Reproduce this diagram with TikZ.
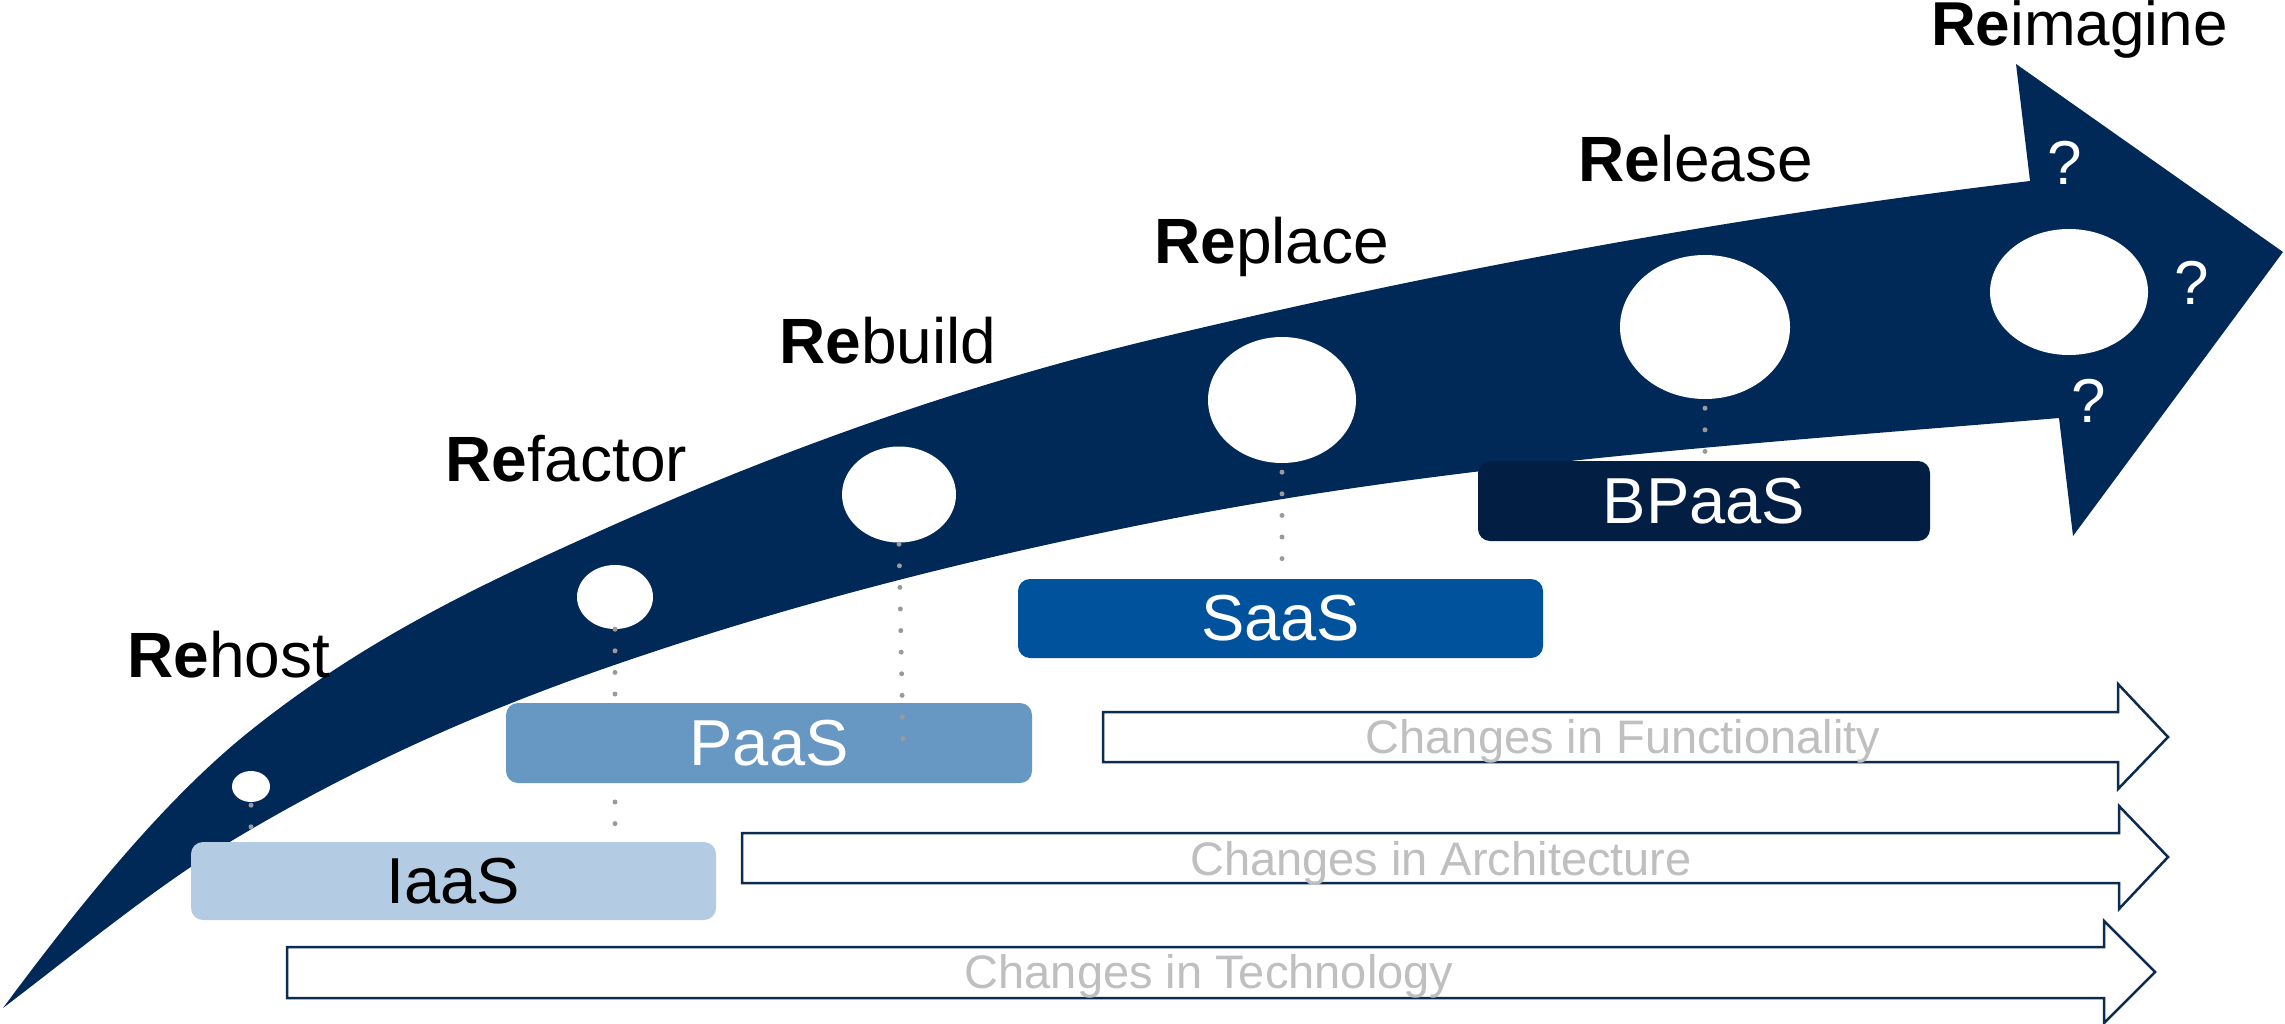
\documentclass[tikz,border=0pt]{standalone}
\usepackage{fontspec}
\setmainfont{Liberation Sans}
\usetikzlibrary{shapes.geometric,calc}

\definecolor{navy}{HTML}{012958}
\definecolor{iaasblue}{HTML}{B4CCE3}
\definecolor{paasblue}{HTML}{6798C3}
\definecolor{saasblue}{HTML}{01529C}
\definecolor{bpaasblue}{HTML}{021F43}
\definecolor{dotgray}{HTML}{9A9A9A}
\definecolor{notegray}{HTML}{BFBFBF}
\definecolor{bandline}{HTML}{0C2B50}

\begin{document}
\begin{tikzpicture}[x=1pt, y=-1pt,
  stage/.style={anchor=base west, inner sep=0pt, font=\fontsize{64}{76}\selectfont},
  hole/.style={ellipse, fill=white, inner sep=0pt},
  tier/.style={rectangle, rounded corners=12pt, inner sep=0pt, font=\fontsize{65}{78}\selectfont},
  dotline/.style={draw=dotgray, line width=5pt, line cap=round, dash pattern=on 0pt off 21.6pt},
  band/.style={draw=bandline, line width=2.5pt, fill=white, line join=miter},
  bandtext/.style={anchor=base, inner sep=0pt, text=notegray, font=\fontsize{47}{56}\selectfont},
  query/.style={text=white, inner sep=0pt, font=\fontsize{62}{74}\selectfont}
]
\useasboundingbox (0,0) rectangle (2285,1024);

% the big curved journey arrow
\fill[navy]
  (3,1008) .. controls (85.3,897) and (167.7,796.8) .. (250,731)
  .. controls (366.7,637.6) and (483.3,583.5) .. (600,531)
  .. controls (783.3,448.5) and (966.7,384) .. (1150,340)
  .. controls (1443.3,269.6) and (1736.7,216.2) .. (2030,181)
  -- (2016,64) -- (2283,252) -- (2073,536) -- (2059,418)
  .. controls (1755.3,443.7) and (1452.7,462.5) .. (1150,523)
  .. controls (966.7,559.7) and (783.3,605.8) .. (600,670)
  .. controls (477.7,712.8) and (355.3,766.6) .. (233,840)
  .. controls (156.3,886) and (79.7,949.7) .. (3,1008)
  -- cycle;

% stage markers on the arrow
\node[hole, minimum width=38pt,  minimum height=31pt]  (c1) at (251,786.5) {};
\node[hole, minimum width=76pt,  minimum height=64pt]  (c2) at (615,597) {};
\node[hole, minimum width=114pt, minimum height=96pt]  (c3) at (899,494.5) {};
\node[hole, minimum width=148pt, minimum height=126pt] (c4) at (1282,400) {};
\node[hole, minimum width=170pt, minimum height=144pt] (c5) at (1705,327) {};
\node[hole, minimum width=158pt, minimum height=126pt] (c6) at (2069,292) {};

% stage names
\node[stage] (rehost)   at (127,677)  {\textbf{Re}host};
\node[stage] (refactor) at (445,481)  {\textbf{Re}factor};
\node[stage] (rebuild)  at (779,363)  {\textbf{Re}build};
\node[stage] (replace)  at (1154,264) {\textbf{Re}place};
\node[stage] (release)  at (1578,182) {\textbf{Re}lease};
\node[stage, font=\fontsize{62}{74}\selectfont] (reimagine) at (1931,46) {\textbf{Re}imagine};

% open questions in the arrow head
\node[query] (q1) at (2065,163) {?};
\node[query] (q2) at (2192,283) {?};
\node[query] (q3) at (2089,401) {?};

% change bands
\draw[band] (1103,712) -- (2118,712) -- (2118,684) -- (2168,737) -- (2118,789) -- (2118,762) -- (1103,762) -- cycle;
\draw[band] (742,833) -- (2119,833) -- (2119,806) -- (2168,857) -- (2119,909) -- (2119,883) -- (742,883) -- cycle;
\draw[band] (287,947) -- (2104,947) -- (2104,921) -- (2155,972) -- (2104,1023) -- (2104,998) -- (287,998) -- cycle;
\node[bandtext] (func) at (1623,753) {Changes in Functionality};
\node[bandtext] (arch) at (1441,875) {Changes in Architecture};
\node[bandtext] (tech) at (1209,988) {Changes in Technology};

% service tiers and their leader dots
\coordinate (iaas-top) at (0,842);
\draw[dotline] ($(c1.south)+(0,3)$) -- (c1.south |- iaas-top);
\draw[dotline] (c2.south) -- (c2.south |- iaas-top);

\node[tier, fill=iaasblue, text=black, minimum width=525pt, minimum height=78pt] (iaas) at (453.5,881) {IaaS};
\node[tier, fill=paasblue, text=white, minimum width=526pt, minimum height=80pt] (paas) at (769,743) {PaaS};

\coordinate (rb-end) at (903,740);
\draw[dotline] ($(c3.south)+(0,1.5)$) -- (rb-end);

\node[tier, fill=saasblue, text=white, minimum width=525pt, minimum height=79pt] (saas) at (1280.5,618.5) {SaaS};
\draw[dotline] ($(c4.south)+(0,9)$) -- (c4.south |- saas.north);

\coordinate (bp-top) at (0,461);
\draw[dotline] ($(c5.south)+(0,9)$) -- (c5.south |- bp-top);
\node[tier, fill=bpaasblue, text=white, minimum width=452pt, minimum height=80pt] (bpaas) at (1704,501) {BPaaS};

\end{tikzpicture}
\end{document}
